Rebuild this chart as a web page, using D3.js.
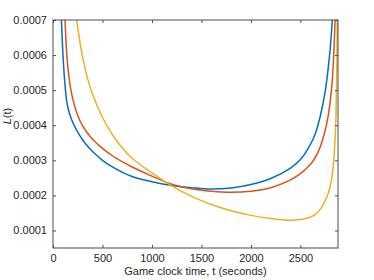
<!DOCTYPE html>
<html>
  <head>
  <script src="https://cdnjs.cloudflare.com/ajax/libs/d3/7.8.5/d3.min.js" charset="utf-8"></script>
  <style>
    body { margin: 0; background: #fff; }
    text { font-family: "Liberation Sans", Arial, sans-serif; fill: #262626; }
  </style>
  </head>
  <body>
    <div id="chart"></div>
	<script type="text/javascript">

		var times = [40, 60, 80, 100, 120, 140, 160, 180, 200, 250, 300, 350, 400, 500, 600, 700, 800,
			1000, 1200, 1400, 1600, 1800, 2000, 2200, 2400, 2500, 2600, 2650, 2700, 2750, 2780, 2800,
			2820, 2840, 2850, 2860, 2870, 2878];

		var blueL = [0.00153, 0.000986, 0.000741, 0.000605, 0.000519, 0.000465, 0.000440, 0.000422,
			0.000408, 0.000380, 0.000358, 0.000340, 0.000325, 0.000300, 0.000281, 0.000266, 0.000254,
			0.000239, 0.000228, 0.000222, 0.000218, 0.000221, 0.000231, 0.000248, 0.000278, 0.000302,
			0.000345, 0.000375, 0.000425, 0.000495, 0.000560, 0.000615, 0.000690, 0.000800, 0.000900,
			0.00105, 0.00130, 0.00200];

		var redL = [0.0030, 0.0019, 0.00125, 0.00090, 0.00071, 0.000600, 0.000540, 0.000502, 0.000475,
			0.000428, 0.000398, 0.000377, 0.000360, 0.000334, 0.000313, 0.000296, 0.000281, 0.000255,
			0.000232, 0.000219, 0.000212, 0.000209, 0.000212, 0.000222, 0.000244, 0.000262, 0.000288,
			0.000308, 0.000338, 0.000385, 0.000425, 0.000465, 0.000520, 0.000620, 0.000700, 0.00082,
			0.00105, 0.00160];

		var yellowL = [0.00334, 0.00228, 0.00175, 0.00144, 0.00123, 0.00108, 0.000963, 0.000875,
			0.000805, 0.000678, 0.000593, 0.000533, 0.000488, 0.000422, 0.000373, 0.000335, 0.000306,
			0.000264, 0.000227, 0.000197, 0.000174, 0.000156, 0.000143, 0.000134, 0.000129, 0.000131,
			0.000138, 0.000146, 0.000160, 0.000185, 0.000205, 0.000225, 0.000255, 0.000310, 0.000360,
			0.000430, 0.000600, 0.00120];

		var xTicks = [0, 500, 1000, 1500, 2000, 2500];
		var yTicks = [0.0001, 0.0002, 0.0003, 0.0004, 0.0005, 0.0006, 0.0007];

		var series = [blueL, redL, yellowL];
		var colors = ["#0072BD", "#D95319", "#EDB120"];

		var W = 374, H = 280;
		var mLeft = 53, mRight = 338, mTop = 20, mBottom = 248;

		var svg = d3.select("#chart")
			.append("svg")
			.attr("width", W)
			.attr("height", H);

		var x = d3.scaleLinear().domain([0, 2880]).range([mLeft, mRight]);
		var y = d3.scaleLinear().domain([0.00005, 0.0007]).range([mBottom, mTop]);

		svg.append("clipPath").attr("id", "plotclip")
			.append("rect")
			.attr("x", mLeft).attr("y", mTop)
			.attr("width", mRight - mLeft).attr("height", mBottom - mTop);

		var line = d3.line()
			.x(function(d){ return x(d[0]); })
			.y(function(d){ return y(d[1]); })
			.curve(d3.curveCatmullRom.alpha(0.5));

		var plot = svg.append("g").attr("clip-path", "url(#plotclip)");
		series.forEach(function(vals, k){
			plot.append("path")
				.datum(times.map(function(t, i){ return [t, vals[i]]; }))
				.attr("d", line)
				.attr("fill", "none")
				.attr("stroke", colors[k])
				.attr("stroke-width", 1.5);
		});

		// axes, ticks point inwards like matlab, box on
		var axisColor = "#4d4d4d";
		var tl = 3;

		var xb = svg.append("g").attr("transform", "translate(0," + mBottom + ")")
			.call(d3.axisBottom(x).tickValues(xTicks).tickSize(-tl).tickPadding(6).tickFormat(d3.format("d")));
		var xt = svg.append("g").attr("transform", "translate(0," + mTop + ")")
			.call(d3.axisTop(x).tickValues(xTicks).tickSize(-tl).tickFormat(""));
		var yl = svg.append("g").attr("transform", "translate(" + mLeft + ",0)")
			.call(d3.axisLeft(y).tickValues(yTicks).tickSize(-tl).tickPadding(6).tickFormat(d3.format(".4f")));
		var yr = svg.append("g").attr("transform", "translate(" + mRight + ",0)")
			.call(d3.axisRight(y).tickValues(yTicks).tickSize(-tl).tickFormat(""));

		[xb, xt, yl, yr].forEach(function(g){
			g.select(".domain").remove();
			g.selectAll(".tick line").attr("stroke", axisColor);
			g.selectAll("text").style("font-size", "11px")
				.style("font-family", "Liberation Sans, Arial, sans-serif")
				.attr("fill", "#262626");
		});

		svg.append("rect")
			.attr("x", mLeft).attr("y", mTop)
			.attr("width", mRight - mLeft).attr("height", mBottom - mTop)
			.attr("fill", "none")
			.attr("stroke", axisColor)
			.attr("stroke-width", 1);

		svg.append("text")
			.attr("x", (mLeft + mRight) / 2)
			.attr("y", 275)
			.attr("text-anchor", "middle")
			.style("font-size", "11px")
			.text("Game clock time, t (seconds)");

		var ylab = svg.append("text")
			.attr("transform", "translate(11,116) rotate(-90)")
			.attr("text-anchor", "middle")
			.style("font-size", "11px");
		ylab.append("tspan").style("font-style", "italic").text("L");
		ylab.append("tspan").text("(t)");

	</script>
  </body>
</html>
